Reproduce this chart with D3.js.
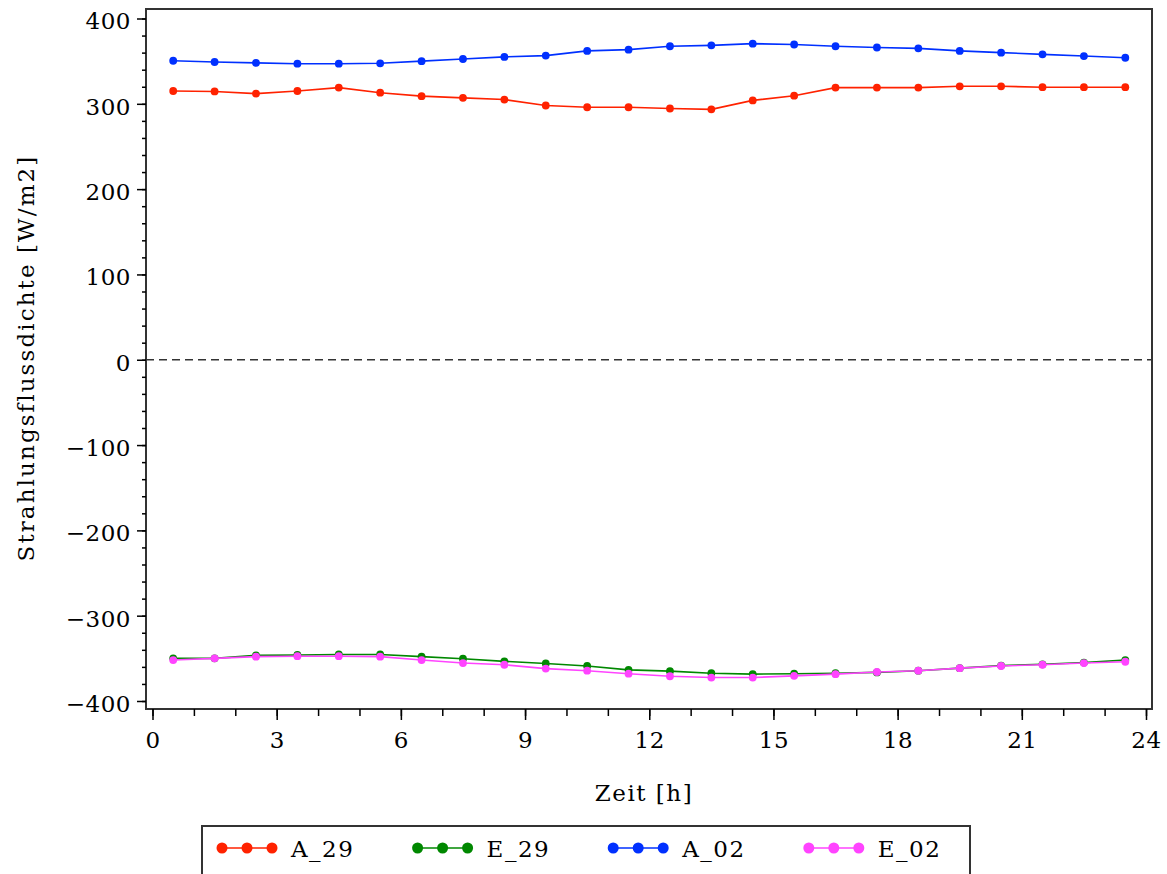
<!DOCTYPE html>
<html>
<head>
<meta charset="utf-8">
<script src="https://cdn.jsdelivr.net/npm/d3@7"></script>
<style>
  body { margin: 0; background: #fff; }
  text { font-family: "DejaVu Serif", serif; fill: #000; }
</style>
</head>
<body>
<div id="main"></div>
<script>
const hours = [0.5, 1.5, 2.5, 3.5, 4.5, 5.5, 6.5, 7.5, 8.5, 9.5, 10.5, 11.5,
  12.5, 13.5, 14.5, 15.5, 16.5, 17.5, 18.5, 19.5, 20.5, 21.5, 22.5, 23.5];

const A_29 = [315, 314.5, 312, 315, 319, 313, 309, 307, 305, 298, 296, 296,
  294.5, 293.5, 304, 309.5, 319, 319, 319, 320.5, 320.5, 319.5, 319.5, 319.5];
const E_29 = [-350, -350, -346.5, -346, -345.5, -345.5, -348, -350.5, -353.5, -356, -359, -363.5,
  -365, -367.5, -368.5, -368, -367.5, -366.5, -364.5, -361.5, -358.5, -357, -355, -352];
const A_02 = [350.5, 349, 348, 347, 347, 347.5, 350, 352.5, 355, 356.5, 362, 363.5,
  367.5, 368.5, 370.5, 369.5, 367.5, 366, 365, 362, 360, 358, 356, 354];
const E_02 = [-352, -350, -348, -347.5, -347.5, -348, -352, -355.5, -357.5, -362, -364.5, -368,
  -371, -372.5, -372.5, -370.5, -368.5, -366, -364.5, -361.5, -359, -357.5, -355.5, -354];

const seriesNames = ['A_29', 'E_29', 'A_02', 'E_02'];
const seriesColors = ['#ff2200', '#008800', '#0030ff', '#ff44ff'];

const xMajorTicks = [0, 3, 6, 9, 12, 15, 18, 21, 24];
const xMinorTicks = [0, 1, 2, 3, 4, 5, 6, 7, 8, 9, 10, 11, 12, 13, 14, 15, 16, 17, 18, 19, 20, 21, 22, 23, 24];
const yMajorTicks = [400, 300, 200, 100, 0, -100, -200, -300, -400];
const yMinorTicks = [400, 380, 360, 340, 320, 300, 280, 260, 240, 220, 200, 180, 160, 140, 120, 100,
  80, 60, 40, 20, 0, -20, -40, -60, -80, -100, -120, -140, -160, -180, -200, -220, -240, -260,
  -280, -300, -320, -340, -360, -380, -400];

const xTitle = 'Zeit [h]';
const yTitle = 'Strahlungsflussdichte [W/m2]';

document.addEventListener('DOMContentLoaded', function () {

  const w = 1167;
  const h = 874;
  const frame = { left: 146, top: 9, right: 1152, bottom: 709 };

  const series = [A_29, E_29, A_02, E_02].map((vals, i) => ({
    name: seriesNames[i],
    color: seriesColors[i],
    points: vals.map((v, j) => ({ x: hours[j], y: v }))
  }));

  const xScale = d3.scaleLinear().
  domain([0, 24]).
  range([152.5, 1146]);

  const yScale = d3.scaleLinear().
  domain([-400, 400]).
  range([701, 18.5]);

  const svg = d3.select('#main').
  append('svg').
  attr('width', w).
  attr('height', h);

  // plot frame
  svg.append('rect').
  attr('x', frame.left).
  attr('y', frame.top).
  attr('width', frame.right - frame.left).
  attr('height', frame.bottom - frame.top).
  attr('fill', 'none').
  attr('stroke', '#333').
  attr('stroke-width', 2);

  // zero line
  svg.append('line').
  attr('x1', frame.left).
  attr('x2', frame.right).
  attr('y1', yScale(0)).
  attr('y2', yScale(0)).
  attr('stroke', '#333').
  attr('stroke-width', 1.5).
  attr('stroke-dasharray', '8,5');

  // axes: minor ticks first, then labelled majors
  svg.append('g').
  attr('transform', `translate(${frame.left},0)`).
  call(d3.axisLeft(yScale).tickValues(yMinorTicks).tickSize(4).tickFormat('')).
  call(g => g.select('.domain').remove());

  const yAxis = svg.append('g').
  attr('transform', `translate(${frame.left},0)`).
  call(d3.axisLeft(yScale).tickValues(yMajorTicks).tickSize(9).tickPadding(6).
  tickFormat(d => d < 0 ? '\u2212' + Math.abs(d) : d));
  yAxis.select('.domain').remove();

  svg.append('g').
  attr('transform', `translate(0,${frame.bottom})`).
  call(d3.axisBottom(xScale).tickValues(xMinorTicks).tickSize(7).tickFormat('')).
  call(g => g.select('.domain').remove());

  const xAxis = svg.append('g').
  attr('transform', `translate(0,${frame.bottom})`).
  call(d3.axisBottom(xScale).tickValues(xMajorTicks).tickSize(11).tickPadding(8));
  xAxis.select('.domain').remove();

  svg.selectAll('.tick line').
  attr('stroke', '#000').
  attr('stroke-width', 1.5);

  svg.selectAll('.tick text').
  attr('font-family', '"DejaVu Serif", serif').
  attr('font-size', '23px').
  attr('letter-spacing', '0.5px');

  yAxis.selectAll('.tick text').attr('dy', '0.45em');
  xAxis.selectAll('.tick text').attr('dy', '0.85em');

  // titles
  svg.append('text').
  attr('x', 644).
  attr('y', 801).
  attr('text-anchor', 'middle').
  attr('font-size', '23px').
  attr('letter-spacing', '1.5px').
  text(xTitle);

  svg.append('text').
  attr('transform', 'translate(34,358) rotate(-90)').
  attr('text-anchor', 'middle').
  attr('font-size', '23px').
  attr('letter-spacing', '2.1px').
  text(yTitle);

  // series
  const line = d3.line().
  x(d => xScale(d.x)).
  y(d => yScale(d.y));

  const groups = svg.selectAll('g.series').
  data(series).
  enter().
  append('g').
  attr('class', 'series');

  groups.append('path').
  attr('d', d => line(d.points)).
  attr('fill', 'none').
  attr('stroke', d => d.color).
  attr('stroke-width', 1.6);

  groups.selectAll('circle').
  data(d => d.points.map(p => ({ ...p, color: d.color }))).
  enter().
  append('circle').
  attr('cx', d => xScale(d.x)).
  attr('cy', d => yScale(d.y)).
  attr('r', 3.9).
  attr('fill', d => d.color);

  // legend
  svg.append('rect').
  attr('x', 202).
  attr('y', 826).
  attr('width', 768).
  attr('height', 60).
  attr('fill', 'none').
  attr('stroke', '#333').
  attr('stroke-width', 2);

  const legend = svg.selectAll('g.legend').
  data(series).
  enter().
  append('g').
  attr('class', 'legend').
  attr('transform', (d, i) => `translate(${222 + i * 195.6},848)`);

  legend.append('line').
  attr('x1', 0).
  attr('x2', 50).
  attr('stroke', d => d.color).
  attr('stroke-width', 1.6);

  legend.selectAll('circle').
  data(d => [0, 25, 50].map(cx => ({ cx: cx, color: d.color }))).
  enter().
  append('circle').
  attr('cx', d => d.cx).
  attr('r', 5.5).
  attr('fill', d => d.color);

  legend.append('text').
  attr('x', 69).
  attr('y', 9).
  attr('font-size', '23px').
  attr('letter-spacing', '1.5px').
  text(d => d.name);

});
</script>
</body>
</html>
